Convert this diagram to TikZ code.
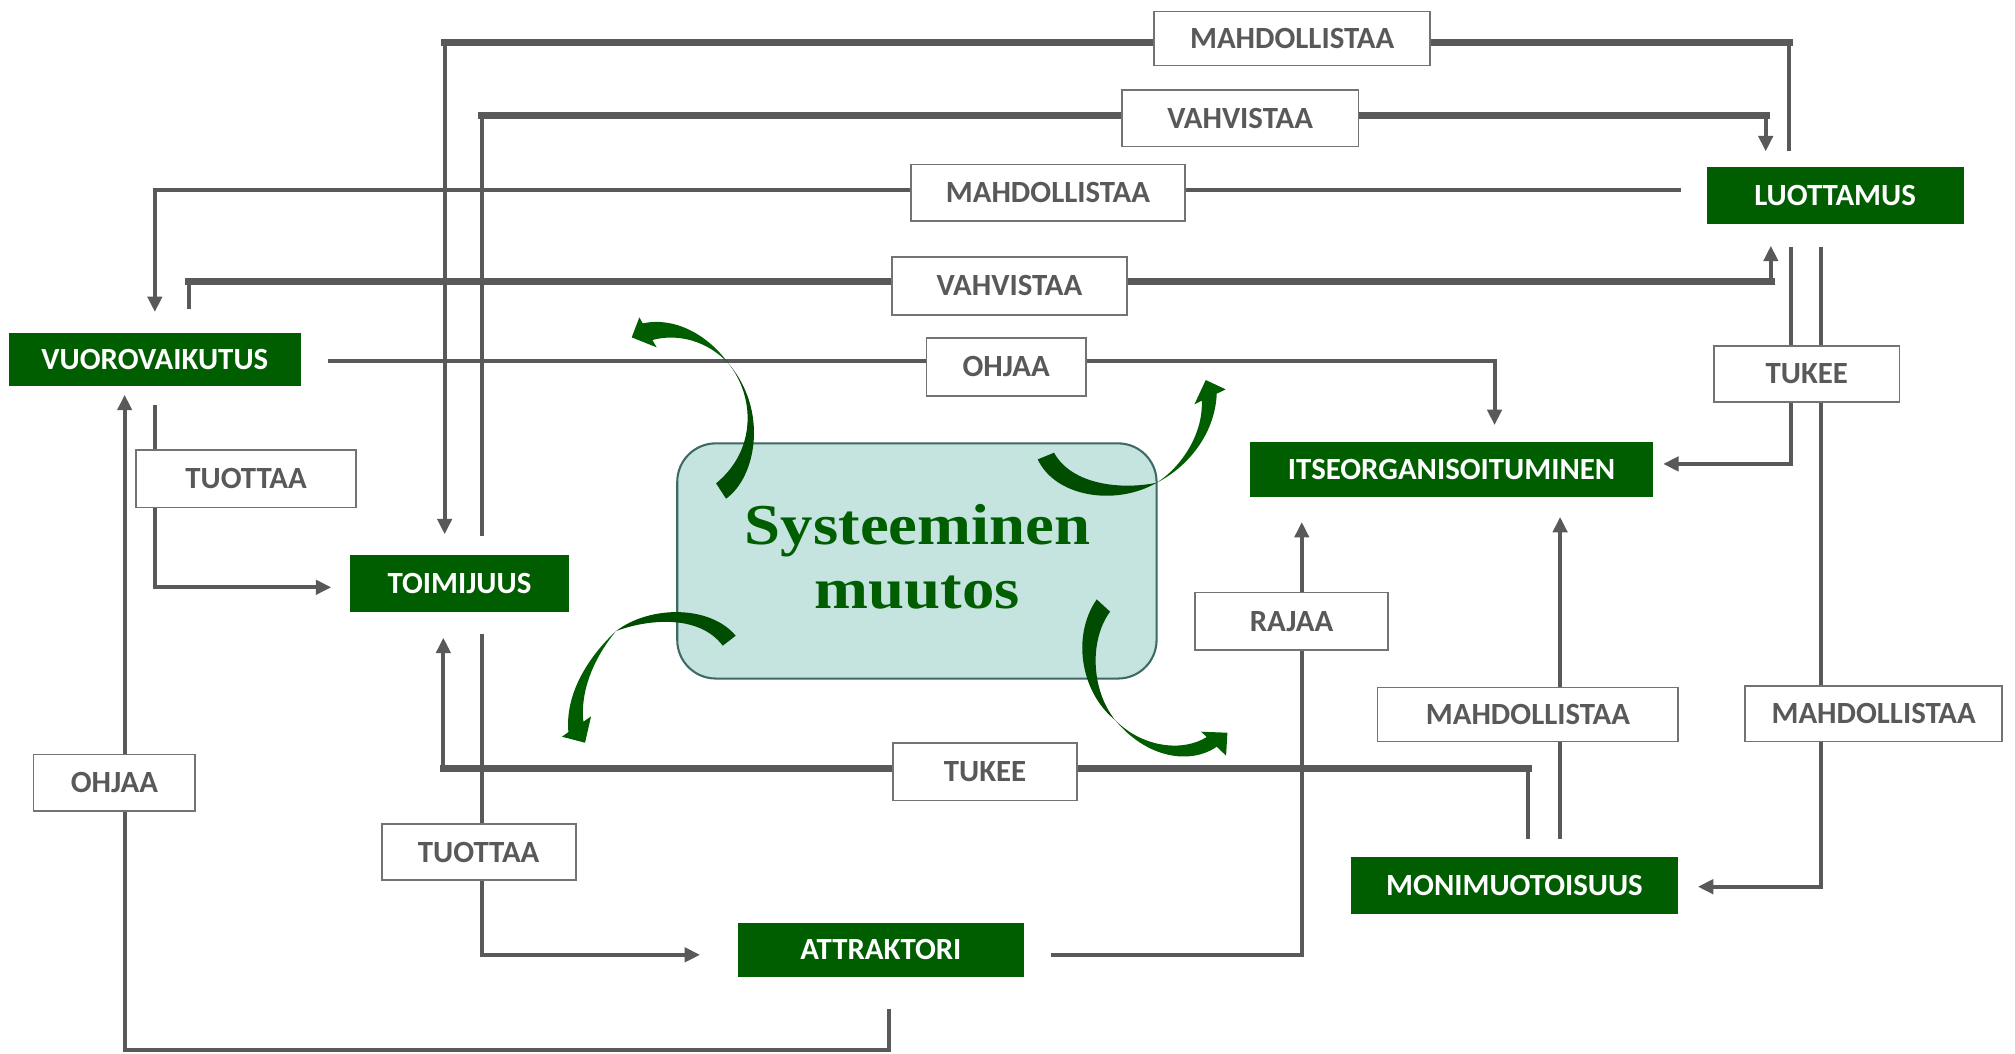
\documentclass[tikz,border=0pt]{standalone}
\usepackage{xcolor}
\usepackage{fontspec}
\setmainfont{Carlito}
\newfontfamily\titlefont[FakeStretch=1.12]{Liberation Serif}
\usepackage{tikz}
\usetikzlibrary{arrows.meta}

\definecolor{leaf}{RGB}{0,94,0}
\definecolor{ink}{RGB}{89,89,89}
\definecolor{frame}{RGB}{115,115,115}
\definecolor{pool}{RGB}{197,227,223}
\definecolor{poolrim}{RGB}{60,105,100}
\definecolor{swirl}{RGB}{0,94,0}
\definecolor{swirldark}{RGB}{0,76,0}

\begin{document}
\begin{tikzpicture}[x=1pt,y=-1pt,inner sep=0pt]
        \tikzset{concept/.style={rectangle,fill=leaf,text=white,font=\fontsize{24}{28}\selectfont\bfseries}};
        \tikzset{relation/.style={rectangle,fill=white,draw=frame,line width=1.3pt,text=ink,font=\fontsize{24}{28}\selectfont\bfseries}};
        \tikzset{link/.style={draw=ink,line width=3.2pt}};
        \tikzset{bar/.style={draw=ink,line width=5.6pt}};
        \tikzset{goes/.style={-{Triangle[length=12pt,width=11pt]}}};

        \useasboundingbox (0,0) rectangle (1568,820);

        \node [concept,minimum width=227pt,minimum height=41pt] (vuoro) at (120.5,279.5) {VUOROVAIKUTUS};
        \node [concept,minimum width=200pt,minimum height=44pt] (luot) at (1428,152) {LUOTTAMUS};
        \node [concept,minimum width=313pt,minimum height=43pt] (itse) at (1129.5,365.5) {ITSEORGANISOITUMINEN};
        \node [concept,minimum width=171pt,minimum height=44pt] (toim) at (357.5,454) {TOIMIJUUS};
        \node [concept,minimum width=223pt,minimum height=42pt] (attr) at (685.5,739) {ATTRAKTORI};
        \node [concept,minimum width=255pt,minimum height=44pt] (moni) at (1178.5,689) {MONIMUOTOISUUS};

        % luottamus -> toimijuus
        \draw [link,goes] ([xshift=-36pt,yshift=12pt]luot.north) -- ++(0,-85) coordinate (c1) -| ([xshift=-11.5pt,yshift=16pt]toim.north) coordinate (c1e);
        \draw [bar] ([xshift=3pt]c1) -- (c1 -| c1e) -- ++(-3,0);
        % toimijuus -> luottamus
        \draw [link,goes] ([xshift=17.5pt,yshift=15pt]toim.north) -- ++(0,-327) coordinate (c2) -| ([xshift=-54pt,yshift=12pt]luot.north) coordinate (c2e);
        \draw [bar] ([xshift=-3pt]c2) -- (c2 -| c2e) -- ++(3,0);
        % luottamus -> vuorovaikutus
        \draw [link,goes] ([xshift=-20pt,yshift=4pt]luot.west) -| ([yshift=16pt]vuoro.north);
        % vuorovaikutus -> luottamus
        \draw [link,goes] ([xshift=26.5pt,yshift=18pt]vuoro.north) -- ++(0,-21.5) coordinate (c4) -| ([xshift=-50pt,yshift=-17pt]luot.south) coordinate (c4e);
        \draw [bar] ([xshift=-3pt]c4) -- (c4 -| c4e) -- ++(3,0);
        % vuorovaikutus -> itseorganisoituminen
        \draw [link,goes] ([xshift=21pt,yshift=-1.5pt]vuoro.east) -| ([xshift=33.5pt,yshift=13pt]itse.north);
        % luottamus -> itseorganisoituminen, monimuotoisuus
        \draw [link,goes] ([xshift=-34pt,yshift=-18pt]luot.south) |- ([xshift=8pt,yshift=4.5pt]itse.east);
        \draw [link,goes] ([xshift=-11pt,yshift=-18pt]luot.south) |- ([xshift=15pt,yshift=-1pt]moni.east);
        % vuorovaikutus -> toimijuus
        \draw [link,goes] ([yshift=-15pt]vuoro.south) |- ([xshift=-14pt,yshift=-3pt]toim.west);
        % attraktori -> vuorovaikutus
        \draw [link,goes] ([xshift=6.5pt,yshift=-25pt]attr.south) -- ++(0,32) -| ([xshift=-23.5pt,yshift=-7pt]vuoro.south);
        % toimijuus -> attraktori
        \draw [link,goes] ([xshift=17.5pt,yshift=-17pt]toim.south) |- ([xshift=-29pt,yshift=-4pt]attr.west);
        % monimuotoisuus -> toimijuus
        \draw [link,goes] ([xshift=10.5pt,yshift=14pt]moni.north) -- ++(0,-54.5) coordinate (c11) -| ([xshift=-12.5pt,yshift=-20pt]toim.south) coordinate (c11e);
        \draw [bar] ([xshift=3pt]c11) -- (c11 -| c11e) -- ++(-3,0);
        % attraktori -> itseorganisoituminen
        \draw [link,goes] ([xshift=21pt,yshift=-4pt]attr.east) -| ([xshift=-116.5pt,yshift=-19pt]itse.south);
        % monimuotoisuus -> itseorganisoituminen
        \draw [link,goes] ([xshift=35.5pt,yshift=14pt]moni.north) -- ([xshift=84.5pt,yshift=-15pt]itse.south);

        \node [relation,minimum width=215pt,minimum height=42pt] (mahd1) at (1005.5,30) {MAHDOLLISTAA};
        \node [relation,minimum width=184pt,minimum height=44pt] (vahv1) at (965,92) {VAHVISTAA};
        \node [relation,minimum width=213pt,minimum height=44pt] (mahd2) at (815.5,150) {MAHDOLLISTAA};
        \node [relation,minimum width=183pt,minimum height=45pt] (vahv2) at (785.5,222.5) {VAHVISTAA};
        \node [relation,minimum width=124pt,minimum height=45pt] (ohjaa1) at (783,285.5) {OHJAA};
        \node [relation,minimum width=144pt,minimum height=44pt] (tukee1) at (1406,291) {TUKEE};
        \node [relation,minimum width=171pt,minimum height=45pt] (tuottaa1) at (191.5,372.5) {TUOTTAA};
        \node [relation,minimum width=150pt,minimum height=45pt] (rajaa) at (1005,483.5) {RAJAA};
        \node [relation,minimum width=234pt,minimum height=42pt] (mahd3) at (1189,556) {MAHDOLLISTAA};
        \node [relation,minimum width=200pt,minimum height=43pt] (mahd4) at (1458,555.5) {MAHDOLLISTAA};
        \node [relation,minimum width=126pt,minimum height=44pt] (ohjaa2) at (89,609) {OHJAA};
        \node [relation,minimum width=143pt,minimum height=45pt] (tukee2) at (766.5,600.5) {TUKEE};
        \node [relation,minimum width=151pt,minimum height=44pt] (tuottaa2) at (372.5,663) {TUOTTAA};

        \node [rectangle,rounded corners=30pt,fill=pool,draw=poolrim,line width=1.6pt,minimum width=373pt,minimum height=183pt] (core) at (713.5,436.5) {};
        \node [text=leaf,align=center,font={\titlefont\fontsize{45}{50}\selectfont\bfseries}] (title) at (714,433) {Systeeminen\\muutos};

        % swirls round the core
        \begin{scope}[shift={(466.93,233.46)},scale=0.2594]
            \fill [swirldark] (348,550) -- (378,596) .. controls (470,530) and (505,330) .. (385,190) .. controls (465,290) and (470,450) .. (348,550) -- cycle;
            \fill [swirl] (385,190) .. controls (320,100) and (220,50) .. (128,70) -- (118,52) -- (95,112) -- (170,142) -- (157,120) .. controls (230,100) and (320,120) .. (385,190) -- cycle;
        \end{scope}
        \begin{scope}[shift={(789.88,280.16)},scale=0.2594]
            \fill [swirldark] (68,298) .. controls (120,410) and (300,440) .. (425,368) .. controls (320,390) and (170,375) .. (117,278) -- cycle;
            \fill [swirl] (425,368) .. controls (520,320) and (600,220) .. (605,101) -- (632,88) -- (572,60) -- (538,133) -- (560,122) .. controls (565,220) and (500,320) .. (425,368) -- cycle;
        \end{scope}
        \begin{scope}[shift={(428.02,463.04)},scale=0.2594]
            \fill [swirldark] (557,122) .. controls (480,30) and (300,30) .. (198,108) .. controls (300,70) and (450,60) .. (518,152) -- cycle;
            \fill [swirl] (198,108) .. controls (110,190) and (45,300) .. (55,411) -- (36,425) -- (105,443) -- (123,364) -- (100,380) .. controls (90,290) and (130,190) .. (198,108) -- cycle;
        \end{scope}
        \begin{scope}[shift={(832.68,455.25)},scale=0.2594]
            \fill [swirldark] (80,43) .. controls (5,150) and (30,320) .. (135,405) .. controls (60,310) and (60,160) .. (120,80) -- cycle;
            \fill [swirl] (135,405) .. controls (230,520) and (360,540) .. (440,485) -- (468,512) -- (472,443) -- (393,440) -- (410,456) .. controls (340,500) and (220,490) .. (135,405) -- cycle;
        \end{scope}
    \end{tikzpicture}
\end{document}
